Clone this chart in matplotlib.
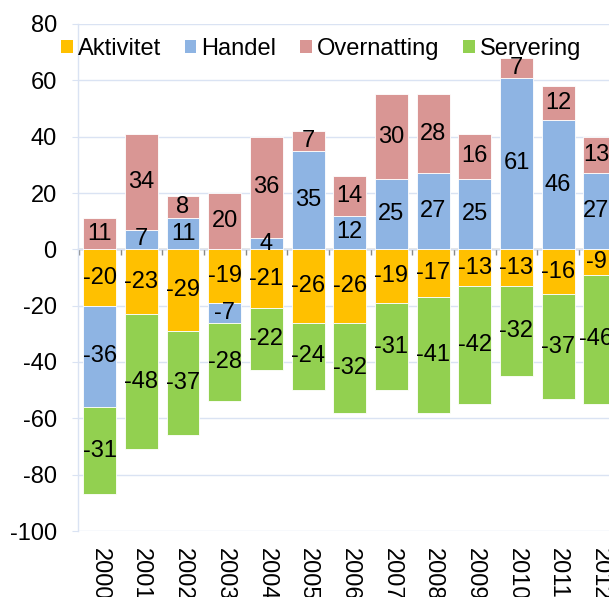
import matplotlib
matplotlib.use("Agg")
import matplotlib.pyplot as plt
from matplotlib.patches import Patch
import numpy as np

plt.rcParams['font.family'] = ['Liberation Sans', 'DejaVu Sans']
plt.rcParams['axes.unicode_minus'] = False

years = ['2000', '2001', '2002', '2003', '2004', '2005', '2006',
         '2007', '2008', '2009', '2010', '2011', '2012']
aktivitet = [-20, -23, -29, -19, -21, -26, -26, -19, -17, -13, -13, -16, -9]
handel = [-36, 7, 11, -7, 4, 35, 12, 25, 27, 25, 61, 46, 27]
overnatting = [11, 34, 8, 20, 36, 7, 14, 30, 28, 16, 7, 12, 13]
servering = [-31, -48, -37, -28, -22, -24, -32, -31, -41, -42, -32, -37, -46]

series = [('Aktivitet', aktivitet, '#FFC000'),
          ('Handel', handel, '#8EB4E3'),
          ('Overnatting', overnatting, '#D99694'),
          ('Servering', servering, '#92D050')]

fs = 17
grid_col = '#DAE3F3'
axis_col = '#898989'

fig = plt.figure(figsize=(6.09, 5.97), dpi=100)
ax = fig.add_axes([78 / 609, 1 - 531 / 597, 1 - 78 / 609, (531 - 24) / 597])

x = np.arange(len(years))
pos = np.zeros(len(years))
neg = np.zeros(len(years))
for name, vals, col in series:
    v = np.array(vals, dtype=float)
    bottom = np.where(v >= 0, pos, neg)
    bars = ax.bar(x, v, width=0.79, bottom=bottom, color=col,
                  edgecolor='white', linewidth=0.6, label=name)
    ax.bar_label(bars, labels=[str(int(a)) for a in v], label_type='center',
                 fontsize=fs, color='black')
    pos = pos + np.where(v >= 0, v, 0)
    neg = neg + np.where(v < 0, v, 0)

ymin, ymax = -100, 80
ax.set_ylim(ymin, ymax)
ax.set_xlim(-0.52, 12.22)
ax.set_yticks(np.arange(ymin, ymax + 1, 20))
ax.set_axisbelow(True)
ax.yaxis.grid(True, color=grid_col, linewidth=1.0)
ax.tick_params(axis='y', labelsize=fs, length=4.3, color=grid_col, pad=11)

for s in ['top', 'right', 'bottom']:
    ax.spines[s].set_visible(False)
ax.spines['left'].set_color(grid_col)
ax.spines['left'].set_linewidth(1.0)

ax.set_xticks(x)
ax.set_xticklabels(years, rotation=-90, fontsize=fs, va='top', ha='center')
ax.tick_params(axis='x', length=0, pad=12)

# category axis crossing at zero
sec = ax.secondary_xaxis((0 - ymin) / (ymax - ymin))
sec.set_alignment('bottom')
sec.set_xticks(np.arange(len(years) + 1) - 0.5)
sec.set_xticklabels([])
sec.tick_params(axis='x', length=4, width=1.0, color=axis_col, direction='out')
sec.spines['bottom'].set_color(axis_col)
sec.spines['bottom'].set_linewidth(1.0)

handles = [Patch(facecolor=c, label=n) for n, _, c in series]
fig.legend(handles=handles, loc='center left', bbox_to_anchor=(60.7 / 609, 1 - 49 / 597),
           ncol=4, frameon=False, fontsize=fs, borderpad=0, borderaxespad=0,
           handlelength=0.5, handleheight=0.5, handletextpad=0.22,
           columnspacing=1.0)

fig.savefig('out.png', dpi=100)
